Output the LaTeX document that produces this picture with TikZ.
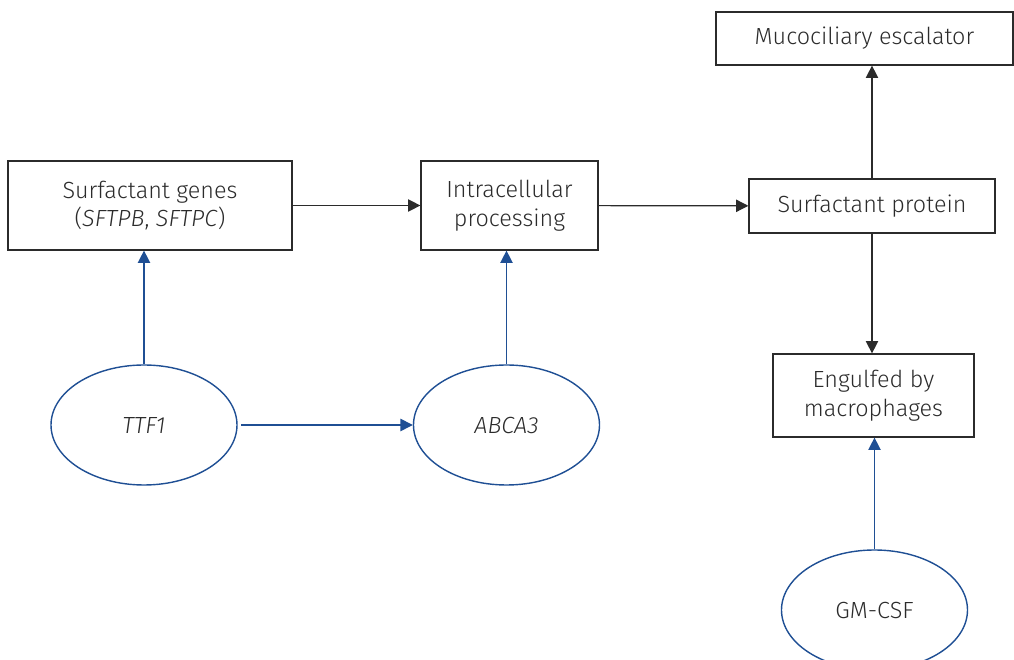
\documentclass[tikz,border=0pt]{standalone}
\usepackage{fontspec}
\setmainfont{Fira Sans Light}[BoldFont=Fira Sans]
\usetikzlibrary{shapes,arrows.meta,positioning}
\definecolor{mblue}{HTML}{1F4F94}
\definecolor{mgrey}{HTML}{2B2B2B}
\tikzstyle{box}=[rectangle, draw=mgrey, line width=0.7pt, align=center, inner sep=0pt, text=mgrey]
\tikzstyle{oval}=[ellipse, draw=mblue, line width=0.8pt, inner sep=0pt, minimum width=3.72cm, minimum height=2.4cm, text=mgrey]
\tikzstyle{l1}=[line width=0.7pt, draw=mgrey, -{Triangle[length=7pt, width=7pt]}]
\tikzstyle{l2}=[line width=0.8pt, draw=mblue, -{Triangle[length=7pt, width=7pt]}, mblue]

\begin{document}
\begin{tikzpicture}[font=\fontsize{13.3}{16.2}\selectfont]
    \useasboundingbox (0,0) rectangle (20.28,-13.2);
    \clip (0,0) rectangle (20.28,-13.2);
    % boxes
    \node[box, minimum width=5.68cm, minimum height=1.78cm] at (3.0,-4.11) (genes) {Surfactant genes\\(\textit{SFTPB}, \textit{SFTPC})};
    \node[box, minimum width=3.54cm, minimum height=1.78cm] at (10.19,-4.11) (proc) {Intracellular\\processing};
    \node[box, minimum width=4.92cm, minimum height=1.08cm] at (17.44,-4.12) (prot) {Surfactant protein};
    \node[box, minimum width=5.94cm, minimum height=1.06cm] at (17.29,-0.77) (muco) {Mucociliary escalator};
    \node[box, minimum width=4.02cm, minimum height=1.66cm] at (17.47,-7.91) (macro) {Engulfed by\\macrophages};
    % ellipses
    \node[oval] at (2.88,-8.5) (ttf) {\textit{TTF1}};
    \node[oval] at (10.13,-8.5) (abca) {\textit{ABCA3}};
    \node[oval] at (17.49,-12.2) (gm) {GM-CSF};

    \draw[l1] (genes) -- (proc);
    \draw[l1] (proc) -- (prot);
    \draw[l1] (prot.north) -- (prot.north |- muco.south);
    \draw[l1] (prot.south) -- (prot.south |- macro.north);

    \draw[l2] (ttf.north) -- (ttf.north |- genes.south);
    \draw[l2] (abca.north) -- (abca.north |- proc.south);
    \draw[l2, shorten <=2pt] (ttf.east) -- (abca.west);
    \draw[l2] (gm.north) -- (gm.north |- macro.south);
\end{tikzpicture}
\end{document}
